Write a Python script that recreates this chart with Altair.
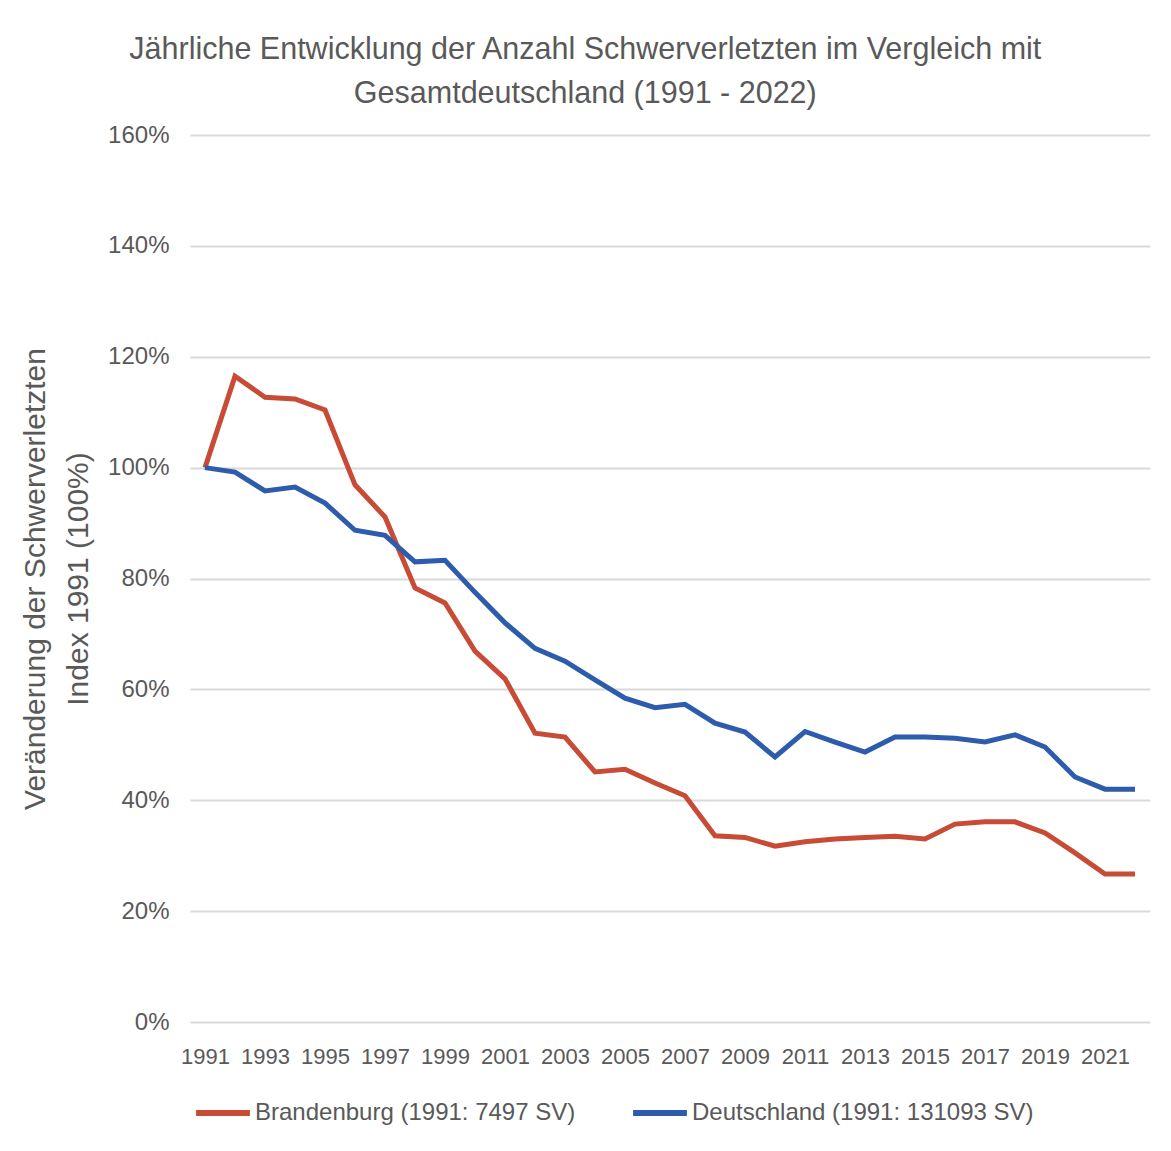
import altair as alt
import pandas as pd

years = list(range(1991, 2023))
brandenburg = [100.0, 116.5, 112.7, 112.4, 110.4, 96.9, 91.1, 78.3, 75.6, 66.9,
               61.9, 52.1, 51.4, 45.1, 45.6, 43.1, 40.8, 33.6, 33.3, 31.7,
               32.5, 33.0, 33.3, 33.5, 33.0, 35.7, 36.1, 36.1, 34.1, 30.5,
               26.7, 26.7]
deutschland = [100.0, 99.2, 95.8, 96.5, 93.6, 88.7, 87.8, 83.0, 83.3, 77.5,
               72.0, 67.4, 65.1, 61.7, 58.4, 56.7, 57.3, 53.9, 52.3, 47.8,
               52.4, 50.5, 48.7, 51.4, 51.4, 51.2, 50.5, 51.8, 49.6, 44.2,
               42.0, 42.0]
series_names = ["Brandenburg (1991: 7497 SV)", "Deutschland (1991: 131093 SV)"]
series_colors = ["#C84B35", "#2D5CAC"]
x_ticks = list(range(1991, 2023, 2))
y_ticks = [0, 20, 40, 60, 80, 100, 120, 140, 160]

rows = []
for y, b, d in zip(years, brandenburg, deutschland):
    rows.append({"Jahr": y, "Wert": b / 100, "Serie": series_names[0]})
    rows.append({"Jahr": y, "Wert": d / 100, "Serie": series_names[1]})
df = pd.DataFrame(rows)

FONT = "Liberation Sans, Arial, sans-serif"
GREY = "#595959"

chart = alt.Chart(df).mark_line(strokeWidth=5, strokeJoin="miter").encode(
    x=alt.X("Jahr:Q",
            scale=alt.Scale(domain=[1990.5, 2022.5], nice=False, zero=False),
            axis=alt.Axis(values=x_ticks, format="d", title=None, grid=False,
                          ticks=False, domain=False, labelPadding=24,
                          labelFontSize=22, labelColor=GREY, labelFont=FONT,
                          labelOverlap=False)),
    y=alt.Y("Wert:Q",
            scale=alt.Scale(domain=[0, 1.6], nice=False),
            axis=alt.Axis(values=[v / 100 for v in y_ticks], format=".0%",
                          title=["Veränderung der Schwerverletzten", "Index 1991 (100%)"],
                          titleFontSize=30, titleFont=FONT, titleColor=GREY,
                          titleFontWeight="normal", titlePadding=14,
                          titleLineHeight=43,
                          labelFontSize=24, labelColor=GREY, labelFont=FONT,
                          labelPadding=21, ticks=False, domain=False,
                          gridColor="#D9D9D9", gridWidth=2)),
    color=alt.Color("Serie:N",
                    scale=alt.Scale(domain=series_names, range=series_colors),
                    legend=alt.Legend(title=None, orient="none", direction="horizontal",
                                      legendX=3, legendY=948,
                                      symbolType="stroke", symbolSize=2900,
                                      symbolStrokeWidth=6, labelFontSize=24,
                                      labelFont=FONT, labelColor=GREY,
                                      labelOffset=2, columnPadding=45,
                                      labelLimit=600)),
).properties(
    width=960,
    height=887,
    padding={"left": 182, "top": 127, "right": 10, "bottom": 112},
    autosize=alt.AutoSizeParams(type="none"),
    title=alt.TitleParams(
        ["Jährliche Entwicklung der Anzahl Schwerverletzten im Vergleich mit",
         "Gesamtdeutschland (1991 - 2022)"],
        fontSize=30.5, font=FONT, color=GREY, fontWeight="normal",
        anchor="middle", frame="bounds", offset=14, lineHeight=44),
).configure_view(stroke=None)

chart.save("out.html", embed_options={"renderer": "svg", "actions": False})
